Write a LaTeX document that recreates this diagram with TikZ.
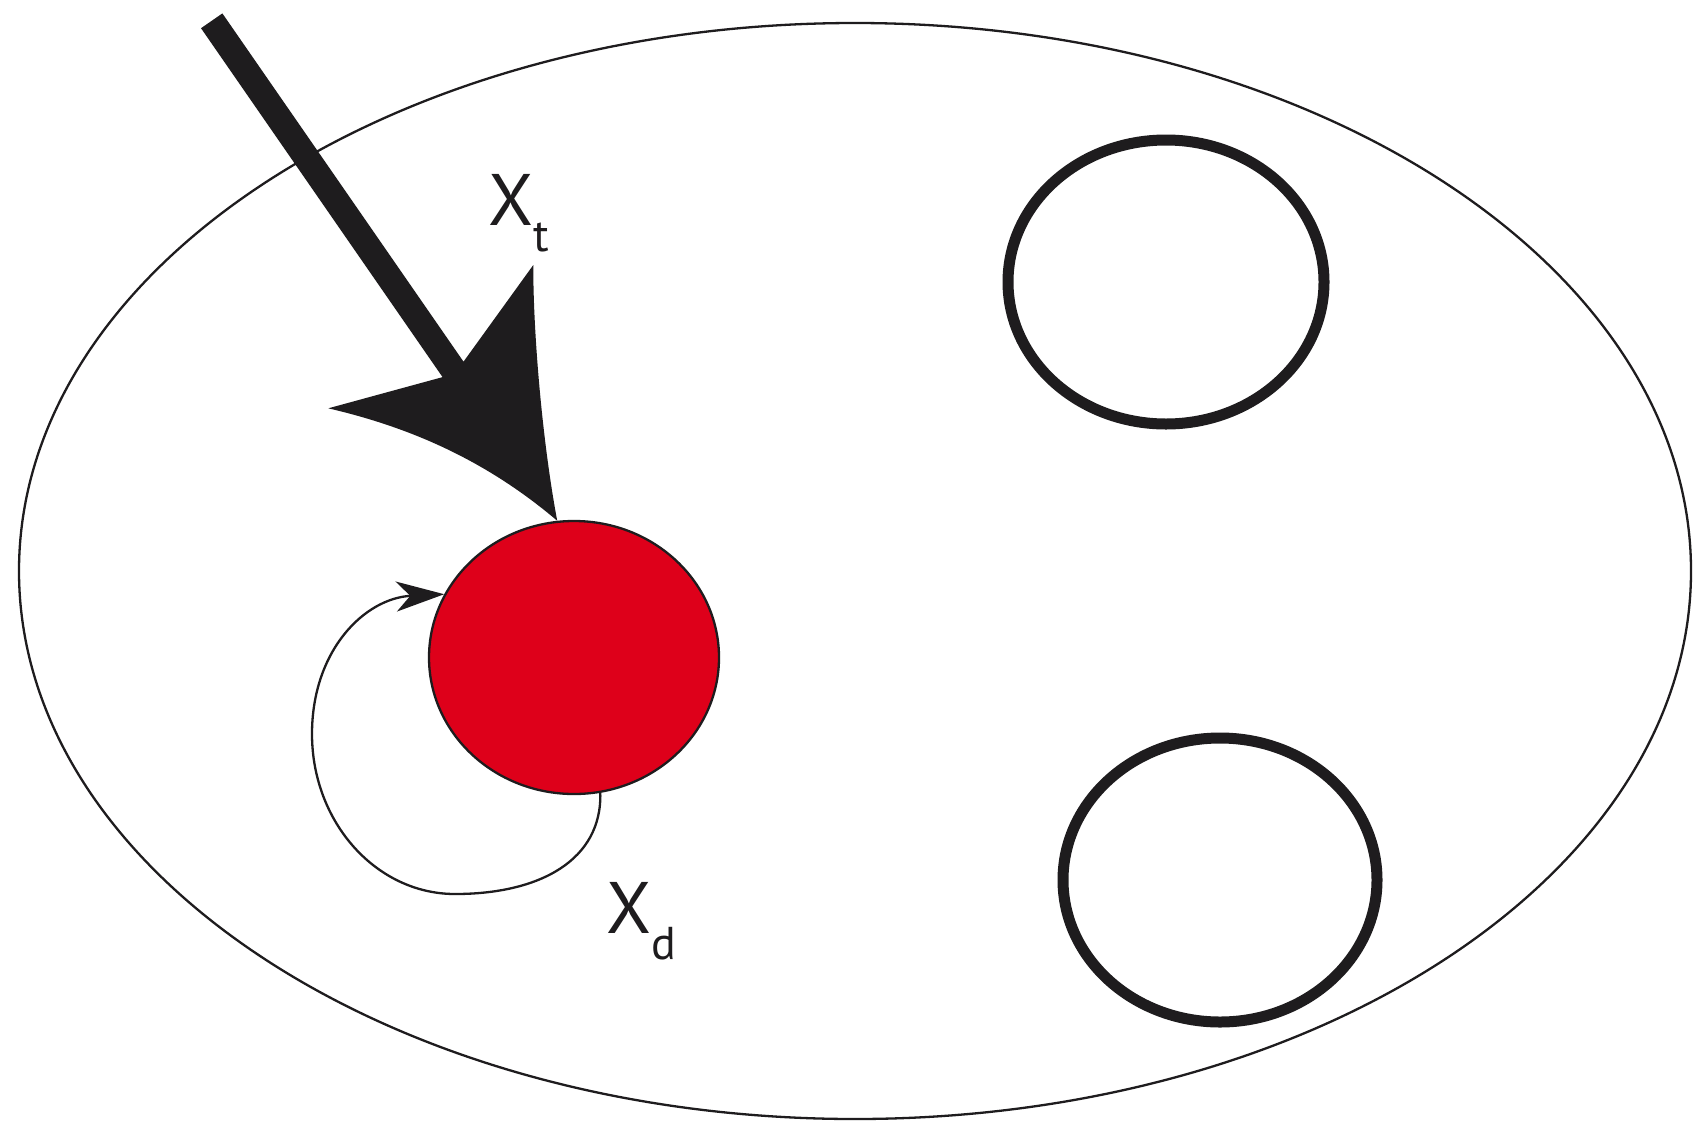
\documentclass[tikz,border=0pt]{standalone}
\usepackage{fontspec}
\setmainfont{PT Sans}
\usetikzlibrary{shapes.geometric,arrows.meta}
\definecolor{ink}{RGB}{30,28,30}
\definecolor{blobred}{RGB}{222,0,26}
\tikzset{
  thinline/.style={draw=ink, line width=2.3pt},
  thickring/.style={draw=ink, line width=11pt},
  lbl/.style={anchor=base west, inner sep=0pt, text=ink, font=\fontsize{73}{73}\selectfont},
}
\newcommand{\subsc}[1]{\raisebox{-26pt}{\fontsize{46}{46}\selectfont #1}}
\begin{document}
\begin{tikzpicture}[x=1pt,y=-1pt]
\useasboundingbox (0,0) rectangle (1693,1122);
\fill[white] (0,0) rectangle (1693,1122);
% outer cell
\draw[thinline] (855,571) ellipse [x radius=836, y radius=548];
% two empty rings
\draw[thickring] (1166,282) ellipse [x radius=158, y radius=142];
\draw[thickring] (1220,880) ellipse [x radius=157, y radius=142];
% red blob
\node[ellipse, thinline, fill=blobred, minimum width=290pt, minimum height=273pt, inner sep=0pt] (cell) at (574,657.5) {};
% big arrow
\coordinate (src) at (211.7,20.8);
\coordinate (neck) at (459,378);
\draw[ink, line width=26pt] (src) -- (neck);
\fill[ink] (cell.97) .. controls (542,440) and (533,330) .. (533.3,265)
  -- (464,361) -- (443,377) -- (328.3,408.3)
  .. controls (400,425) and (480,455) .. (cell.97) -- cycle;
% loop arrow
\draw[thinline, -{Stealth[length=48pt, width=30pt, inset=14pt]}]
  (cell.-79) .. controls (602,860) and (540,894) .. (455,894)
  .. controls (376,894) and (312,822) .. (312,734)
  .. controls (312,650) and (365,598) .. (cell.154);
% labels
\node[lbl] (lt) at (488,225) {X\subsc{t}};
\node[lbl] (ld) at (606,933) {X\subsc{d}};
\end{tikzpicture}
\end{document}
